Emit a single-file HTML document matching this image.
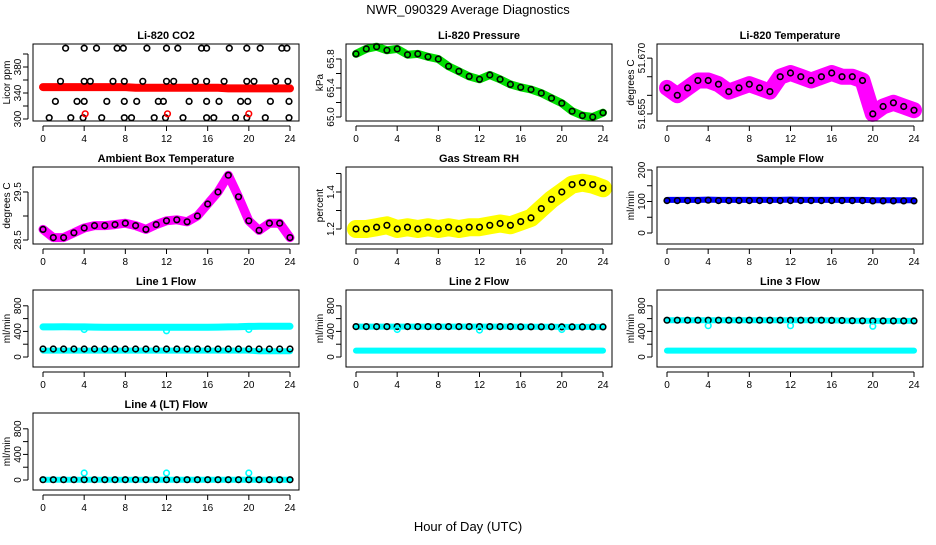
<!DOCTYPE html>
<html><head><meta charset="utf-8"><style>
body{margin:0;background:#fff}
svg text{font-family:"Liberation Sans",Arial,sans-serif;fill:#000}
</style></head><body>
<svg id="c" width="936" height="540" viewBox="0 0 936 540">
<text x="468" y="14" font-size="13" text-anchor="middle">NWR_090329  Average Diagnostics</text>
<text x="468" y="531" font-size="13" text-anchor="middle">Hour of Day (UTC)</text>
</svg>
<script>
const hours = [0,1,2,3,4,5,6,7,8,9,10,11,12,13,14,15,16,17,18,19,20,21,22,23,24];
const pressure = [65.87,65.94,65.97,65.92,65.94,65.86,65.87,65.83,65.80,65.70,65.63,65.56,65.52,65.58,65.52,65.45,65.41,65.38,65.33,65.26,65.19,65.08,65.02,65.00,65.06];
const liTemp = [51.662,51.660,51.662,51.664,51.664,51.663,51.661,51.662,51.663,51.662,51.661,51.665,51.666,51.665,51.664,51.665,51.666,51.665,51.665,51.664,51.655,51.657,51.658,51.657,51.656];
const ambient = [28.72,28.55,28.55,28.65,28.75,28.8,28.8,28.82,28.85,28.8,28.72,28.82,28.9,28.92,28.88,29.0,29.25,29.5,29.85,29.4,28.9,28.7,28.85,28.85,28.55];
const rh = [1.2,1.2,1.21,1.22,1.2,1.21,1.2,1.21,1.2,1.21,1.2,1.21,1.21,1.22,1.23,1.22,1.24,1.26,1.31,1.36,1.4,1.44,1.45,1.44,1.42];
const co2Red = [349,349,349,349,349,349,349,349,349,348,348,348,348,348,348,348,348,348,347,347,347,347,347,347,347];
const co2Hours = [2.2,4.0,5.2,7.2,7.8,10.1,12.0,13.1,15.4,15.9,18.1,19.8,21.1,23.2,23.7, 1.7,4.0,4.6,6.8,7.9,9.7,12.0,12.7,14.8,15.9,17.6,19.8,20.5,22.6,23.8, 1.2,3.3,4.0,6.2,7.9,9.1,11.2,11.7,14.2,15.9,17.1,19.2,19.9,22.1,23.9, 0.6,2.7,3.9,5.7,7.9,8.6,10.8,11.9,13.6,15.9,16.6,18.7,19.8,21.6,23.9];
const co2Values = [409,409,409,409,409,409,409,409,409,409,409,409,409,409,409, 358,358,358,358,358,358,358,358,358,358,358,358,358,358,358, 327,327,327,327,327,327,327,327,327,327,327,327,327,327,327, 302,302,302,302,302,302,302,302,302,302,302,302,302,302,302];
const co2OutHours = [4.1,12.1,20.0];
const co2OutValues = [308,308,308];
const sampleBlue = [105,105,105,105,106,105,105,105,105,105,105,105,106,105,105,105,105,105,105,105,104,104,104,104,104];
const sampleBlack = [103,103,103,103,104,103,103,103,103,103,103,103,103,103,103,103,103,103,103,103,102,102,102,102,102];
const line1High = [470,470,472,470,470,468,466,466,466,466,466,466,466,466,466,466,466,468,470,472,478,480,480,480,480];
const line1Low = [100,100,100,100,100,100,100,100,100,100,100,100,100,100,100,100,100,100,100,100,100,90,90,90,90];
const line1Black = [125,125,125,125,125,125,125,125,125,125,125,125,125,125,125,125,125,125,125,125,125,125,125,125,125];
const line2Black = [475,475,475,475,475,475,475,475,475,475,475,475,475,475,475,475,472,472,472,472,470,470,470,470,470];
const line2Low = [100,100,100,100,100,100,100,100,100,100,100,100,100,100,100,100,100,100,100,100,100,100,100,100,100];
const line3Black = [575,575,575,575,575,575,575,575,575,575,575,575,575,575,575,575,572,570,568,566,565,565,565,565,565];
const line3Low = [100,100,100,100,100,100,100,100,100,100,100,100,100,100,100,100,100,100,100,100,100,100,100,100,100];
const line4Black = [5,5,5,5,5,5,5,5,5,5,5,5,5,5,5,5,5,5,5,5,5,5,5,5,5];
const flowOutHours = [4,12,20];
const line1Out = [430,410,430];
const line2Out = [430,420,430];
const line3Out = [490,490,480];
const line4Out = [110,110,110];
const xTicks = [0,4,8,12,16,20,24];

const NS='http://www.w3.org/2000/svg';
const svg=document.getElementById('c');
function mk(tag,attrs,parent){const e=document.createElementNS(NS,tag);for(const k in attrs)e.setAttribute(k,attrs[k]);(parent||svg).appendChild(e);return e;}

function panel(p){
  const g=mk('g',{});
  
  
  const L=p.x,T=p.y,W=266,H=77;
  const xs=h=>L+10+h*(247/24);
  const ys=v=>T+H-(v-p.ymin)/(p.ymax-p.ymin)*H;
  const t=mk('text',{x:L+W/2,y:T-5,'font-size':11,'font-weight':'bold','text-anchor':'middle'},g);
  t.textContent=p.title;
  
  
  p.series.forEach(s=>{
    const sg=mk('g',{},g);
    
    
    if(s.type==='band'){
      const pts=s.h.map((h,i)=>xs(h).toFixed(1)+','+ys(s.v[i]).toFixed(1)).join(' ');
      mk('polyline',{points:pts,fill:'none',stroke:s.color,'stroke-width':s.w||7,'stroke-linejoin':'round','stroke-linecap':'round'},sg);
    } else {
      s.h.forEach((h,i)=>{
        const c=mk('circle',{cx:xs(h).toFixed(1),cy:ys(s.v[i]).toFixed(1),r:2.8,fill:'none',stroke:s.color,'stroke-width':1.6},sg);
        
        
      });
    }
  });
  mk('rect',{x:L,y:T,width:W,height:H,fill:'none',stroke:'#000','stroke-width':1},g);
  mk('line',{x1:xs(0),x2:xs(24),y1:T+H+5,y2:T+H+5,stroke:'#000'},g);
  xTicks.forEach(h=>{
    mk('line',{x1:xs(h),x2:xs(h),y1:T+H+5,y2:T+H+10,stroke:'#000'},g);
    const tl=mk('text',{x:xs(h),y:T+H+21,'font-size':10,'text-anchor':'middle'},g);
    tl.textContent=h;
    
    
  });
  const yt=p.ticks;
  mk('line',{x1:L-5,x2:L-5,y1:ys(yt[0]),y2:ys(yt[yt.length-1]),stroke:'#000'},g);
  yt.forEach(v=>{
    mk('line',{x1:L-10,x2:L-5,y1:ys(v),y2:ys(v),stroke:'#000'},g);
  });
  p.labels.forEach((lab,i)=>{
    const y=ys(p.labelVals[i]);
    const tl=mk('text',{x:L-12,y:y,'font-size':10,'text-anchor':'middle',transform:`rotate(-90 ${L-12} ${y})`},g);
    tl.textContent=lab;
    
    
  });
  const yc=T+H/2;
  const at=mk('text',{x:L-23,y:yc,'font-size':10,'text-anchor':'middle',transform:`rotate(-90 ${L-23} ${yc})`},g);
  at.textContent=p.ytitle;
  
  
}

const C1=33,C2=346,C3=657, R1=44,R2=167,R3=290,R4=413;
const flowTicks=[0,200,400,600,800], flowLab=['0','400','800'], flowLabV=[0,400,800];

panel({name:'panel-co2',title:'Li-820 CO2',x:C1,y:R1,ymin:296.9,ymax:415.4,ticks:[300,320,340,360,380,400],labels:['300','340','380'],labelVals:[300,340,380],ytitle:'Licor ppm',
 series:[{name:'co2-red-band',type:'band',h:hours,v:co2Red,color:'#ff0000',w:8},
 {name:'co2-black-points',type:'pts',h:co2Hours,v:co2Values,color:'#000'},
 {name:'co2-red-outliers',type:'pts',h:co2OutHours,v:co2OutValues,color:'#ff0000'}]});
panel({name:'panel-pressure',title:'Li-820 Pressure',x:C2,y:R1,ymin:64.945,ymax:66.007,ticks:[65.0,65.2,65.4,65.6,65.8],labels:['65.0','65.4','65.8'],labelVals:[65.0,65.4,65.8],ytitle:'kPa',
 series:[{name:'pressure-green-band',type:'band',h:hours,v:pressure,color:'#00dd00',w:8},
 {name:'pressure-black-points',type:'pts',h:hours,v:pressure,color:'#000'}]});
panel({name:'panel-li-temperature',title:'Li-820 Temperature',x:C3,y:R1,ymin:51.6531,ymax:51.6738,ticks:[51.655,51.660,51.665,51.670],labels:['51.655','51.670'],labelVals:[51.655,51.670],ytitle:'degrees C',
 series:[{name:'litemp-magenta-band',type:'band',h:hours,v:liTemp,color:'#ff00ff',w:16},
 {name:'litemp-black-points',type:'pts',h:hours,v:liTemp,color:'#000'}]});
panel({name:'panel-ambient',title:'Ambient Box Temperature',x:C1,y:R2,ymin:28.417,ymax:30.02,ticks:[28.5,29.0,29.5],labels:['28.5','29.5'],labelVals:[28.5,29.5],ytitle:'degrees C',
 series:[{name:'ambient-magenta-band',type:'band',h:hours,v:ambient,color:'#ff00ff',w:9},
 {name:'ambient-black-points',type:'pts',h:hours,v:ambient,color:'#000'}]});
panel({name:'panel-rh',title:'Gas Stream RH',x:C2,y:R2,ymin:1.119,ymax:1.535,ticks:[1.2,1.3,1.4,1.5],labels:['1.2','1.4'],labelVals:[1.2,1.4],ytitle:'percent',
 series:[{name:'rh-yellow-band',type:'band',h:hours,v:rh,color:'#ffff00',w:18},
 {name:'rh-black-points',type:'pts',h:hours,v:rh,color:'#000'}]});
panel({name:'panel-sample-flow',title:'Sample Flow',x:C3,y:R2,ymin:-34.9,ymax:209.5,ticks:[0,50,100,150,200],labels:['0','100','200'],labelVals:[0,100,200],ytitle:'ml/min',
 series:[{name:'sample-blue-band',type:'band',h:hours,v:sampleBlue,color:'#0000ff',w:6},
 {name:'sample-black-points',type:'pts',h:hours,v:sampleBlack,color:'#000'}]});
panel({name:'panel-line1',title:'Line 1 Flow',x:C1,y:R3,ymin:-156,ymax:1047,ticks:flowTicks,labels:flowLab,labelVals:flowLabV,ytitle:'ml/min',
 series:[{name:'line1-cyan-high',type:'band',h:hours,v:line1High,color:'#00ffff',w:7},
 {name:'line1-cyan-low',type:'band',h:hours,v:line1Low,color:'#00ffff',w:6},
 {name:'line1-black-points',type:'pts',h:hours,v:line1Black,color:'#000'},
 {name:'line1-cyan-outliers',type:'pts',h:flowOutHours,v:line1Out,color:'#00ffff'}]});
panel({name:'panel-line2',title:'Line 2 Flow',x:C2,y:R3,ymin:-156,ymax:1047,ticks:flowTicks,labels:flowLab,labelVals:flowLabV,ytitle:'ml/min',
 series:[{name:'line2-cyan-low',type:'band',h:hours,v:line2Low,color:'#00ffff',w:6},
 {name:'line2-cyan-high',type:'band',h:hours,v:line2Black,color:'#00ffff',w:6},
 {name:'line2-black-points',type:'pts',h:hours,v:line2Black,color:'#000'},
 {name:'line2-cyan-outliers',type:'pts',h:flowOutHours,v:line2Out,color:'#00ffff'}]});
panel({name:'panel-line3',title:'Line 3 Flow',x:C3,y:R3,ymin:-156,ymax:1047,ticks:flowTicks,labels:flowLab,labelVals:flowLabV,ytitle:'ml/min',
 series:[{name:'line3-cyan-low',type:'band',h:hours,v:line3Low,color:'#00ffff',w:6},
 {name:'line3-cyan-high',type:'band',h:hours,v:line3Black,color:'#00ffff',w:6},
 {name:'line3-black-points',type:'pts',h:hours,v:line3Black,color:'#000'},
 {name:'line3-cyan-outliers',type:'pts',h:flowOutHours,v:line3Out,color:'#00ffff'}]});
panel({name:'panel-line4',title:'Line 4 (LT) Flow',x:C1,y:R4,ymin:-156,ymax:1047,ticks:flowTicks,labels:flowLab,labelVals:flowLabV,ytitle:'ml/min',
 series:[{name:'line4-cyan-band',type:'band',h:hours,v:line4Black,color:'#00ffff',w:6},
 {name:'line4-black-points',type:'pts',h:hours,v:line4Black,color:'#000'},
 {name:'line4-cyan-outliers',type:'pts',h:flowOutHours,v:line4Out,color:'#00ffff'}]});
</script>
</body></html>
